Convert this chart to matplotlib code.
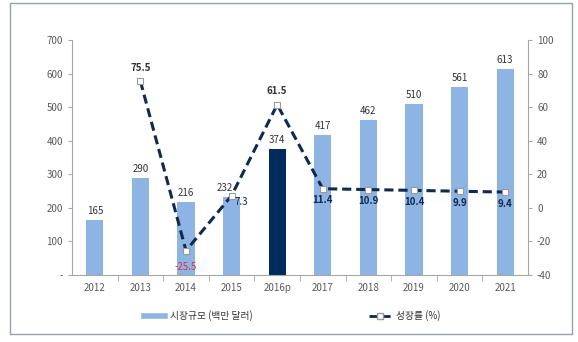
import matplotlib
matplotlib.use("Agg")
import matplotlib.pyplot as plt
from matplotlib.lines import Line2D
from matplotlib.patches import Rectangle

plt.rcParams['font.family'] = ['Noto Sans CJK KR', 'DejaVu Sans']
plt.rcParams['axes.unicode_minus'] = False

years = ['2012', '2013', '2014', '2015', '2016p', '2017', '2018', '2019', '2020', '2021']
market = [165, 290, 216, 232, 374, 417, 462, 510, 561, 613]
growth = [None, 75.5, -25.5, 7.3, 61.5, 11.4, 10.9, 10.4, 9.9, 9.4]
left_ticks = [0, 100, 200, 300, 400, 500, 600, 700]
left_labels = ['-', '100', '200', '300', '400', '500', '600', '700']
right_ticks = [-40, -20, 0, 20, 40, 60, 80, 100]

light = '#8db4e2'
dark = '#002b5c'
navy = '#0f2a4e'
gray = '#a6a6a6'
tcol = '#595959'

fig = plt.figure(figsize=(5.78, 3.42), dpi=100)
fig.patches.append(Rectangle((10/578, 1-334/342), (572-10)/578, (334-3)/342,
                             transform=fig.transFigure, fill=False,
                             edgecolor='#8fa3b3', lw=1.0))
ax = fig.add_axes([72/578, 1-275/342, (528-72)/578, (275-40)/342])
x = list(range(len(years)))
colors = [dark if y == '2016p' else light for y in years]
ax.bar(x, market, width=0.38, color=colors, zorder=2)
ax.set_xlim(-0.5, len(years)-0.5)
ax.set_ylim(0, 700)
ax.set_yticks(left_ticks)
ax.set_yticklabels(left_labels)
ax.set_xticks([i + 0.5 for i in range(len(years)-1)], minor=True)
ax.set_xticks(x)
ax.set_xticklabels(years)
ax.tick_params(axis='x', which='major', length=0, pad=6, labelsize=7, labelcolor=tcol)
ax.tick_params(axis='x', which='minor', length=4, color=gray, direction='out')
ax.tick_params(axis='y', length=3, color=gray, labelsize=7, labelcolor=tcol)
for s in ['top', 'right']:
    ax.spines[s].set_visible(False)
for s in ['left', 'bottom']:
    ax.spines[s].set_color(gray)
    ax.spines[s].set_linewidth(0.8)

for i, v in enumerate(market):
    dx = -0.15 if years[i] == '2015' else 0
    ax.text(i + dx, v + 12, str(v), ha='center', va='bottom', fontsize=7, color='#333333')

ax2 = ax.twinx()
ax2.set_ylim(-40, 100)
ax2.set_yticks(right_ticks)
ax2.tick_params(axis='y', length=3, color=gray, labelsize=7, labelcolor=tcol)
for s in ['top', 'left', 'bottom']:
    ax2.spines[s].set_visible(False)
ax2.spines['right'].set_color(gray)
ax2.spines['right'].set_linewidth(0.8)

gx = [i for i, g in enumerate(growth) if g is not None]
gy = [g for g in growth if g is not None]
ax2.plot(gx, gy, color=navy, lw=2.2, dashes=(3, 1.6), marker='s', markersize=5,
         markerfacecolor='white', markeredgecolor='#9a9a9a', markeredgewidth=0.8, zorder=3)

for i, g in zip(gx, gy):
    if g == 75.5 or g == 61.5:
        ax2.text(i, g + 5, f'{g}', ha='center', va='bottom', fontsize=7, color='#333333', fontweight='bold')
    elif g < 0:
        ax2.text(i, g - 7, f'{g}', ha='center', va='top', fontsize=7, color='#e0303a')
    elif g == 7.3:
        ax2.text(i + 0.22, g - 1, f'{g}', ha='center', va='top', fontsize=7, color=navy)
    else:
        ax2.text(i, g - 4, f'{g}', ha='center', va='top', fontsize=7, color=navy, fontweight='bold')

h1 = Line2D([], [], color=light, lw=4)
h2 = Line2D([], [], color=navy, lw=2, dashes=(3, 1.6), marker='s', markersize=4,
            markerfacecolor='white', markeredgecolor='#9a9a9a')
fig.legend([h1, h2], ['시장규모 (백만 달러)', '성장률 (%)'], loc='center',
           bbox_to_anchor=(292/578, 1-316/342), ncol=2, frameon=False,
           fontsize=7, columnspacing=12, handlelength=2.2, handletextpad=0.5,
           labelcolor='#333333')

fig.savefig('out.png', dpi=100)
